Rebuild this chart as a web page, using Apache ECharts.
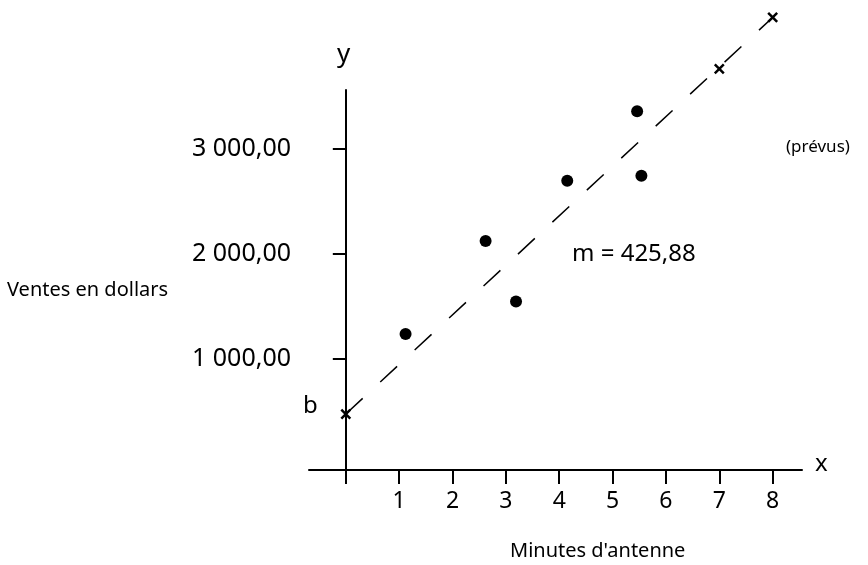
<!DOCTYPE html>
<html><head><meta charset="utf-8">
<script src="https://cdn.jsdelivr.net/npm/echarts@6/dist/echarts.min.js"></script>
<style>html,body{margin:0;background:#fff}#c{width:868px;height:565px}</style>
</head><body><div id="c"></div>
<script>
const observedX = [1.12, 2.62, 3.19, 4.15, 5.46, 5.54];
const observedY = [1238, 2124, 1548, 2697, 3360, 2745];
const crossX = [0, 7, 8];
const crossY = [476, 3763, 4253];
const fitX = [0, 8];
const fitY = [476, 4253];
const xTicks = [0, 1, 2, 3, 4, 5, 6, 7, 8];
const xTickLabels = [1, 2, 3, 4, 5, 6, 7, 8];
const yTickValues = [1000, 2000, 3000];
const yTickLabels = ['1 000,00', '2 000,00', '3 000,00'];
const arrowStarts = [[8.12, 3171], [9.10, 3238]];
const arrowEnds = [[7.24, 3619], [8.21, 4124]];

const F = 'Noto Sans';
const chart = echarts.init(document.getElementById('c'));
chart.setOption({
  animation: false,
  textStyle: {fontFamily: F, color: '#000'},
  grid: {left: 309, right: 66, top: 90, bottom: 95},
  xAxis: {type: 'value', min: -0.69, max: 8.55,
    axisLine: {onZero: false, lineStyle: {color: '#000', width: 2}},
    splitLine: {show: false},
    axisTick: {customValues: xTicks, length: 14, lineStyle: {color: '#000', width: 2}},
    axisLabel: {customValues: xTickLabels, fontSize: 23, margin: 20, color: '#000', fontFamily: F}},
  yAxis: {type: 'value', min: -57, max: 3562,
    axisLine: {onZero: true, show: true, lineStyle: {color: '#000', width: 2}},
    splitLine: {show: false},
    axisTick: {customValues: yTickValues, length: 13, lineStyle: {color: '#000', width: 2}},
    axisLabel: {customValues: yTickValues, fontSize: 25, margin: 18, color: '#000', fontFamily: F,
      formatter: v => yTickLabels[yTickValues.indexOf(v)]}},
  series: [
    {type: 'line', data: fitX.map((x, i) => [x, fitY[i]]), showSymbol: false, clip: false,
      lineStyle: {color: '#000', width: 1.5, type: [23, 24]},
      markLine: {silent: true, symbol: ['none', 'arrow'], symbolSize: [14, 16], label: {show: false},
        lineStyle: {color: '#000', width: 2.5, type: 'solid', opacity: 1},
        data: arrowStarts.map((s, i) => [{coord: s}, {coord: arrowEnds[i]}])}},
    {type: 'scatter', data: observedX.map((x, i) => [x, observedY[i]]), symbolSize: 12,
      itemStyle: {color: '#000', opacity: 1}, clip: false},
    {type: 'scatter', data: crossX.map((x, i) => [x, crossY[i]]), symbol: 'path://M0,0L10,10M10,0L0,10',
      symbolSize: 9, clip: false, itemStyle: {color: 'none', borderColor: '#000', borderWidth: 2.5, opacity: 1}}
  ],
  graphic: [
    {type: 'text', left: 337, top: 42, style: {text: 'y', font: '26px ' + F, fill: '#000'}},
    {type: 'text', left: 815, top: 452, style: {text: 'x', font: '24px ' + F, fill: '#000'}},
    {type: 'text', left: 303, top: 394, style: {text: 'b', font: '24px ' + F, fill: '#000'}},
    {type: 'text', left: 572, top: 242, style: {text: 'm = 425,88', font: '24px ' + F, fill: '#000'}},
    {type: 'text', left: 7, top: 280, style: {text: 'Ventes en dollars', font: '20px ' + F, fill: '#000'}},
    {type: 'text', left: 510, top: 541, style: {text: "Minutes d'antenne", font: '20px ' + F, fill: '#000'}},
    {type: 'text', left: 786, top: 139, style: {text: '(prévus)', font: '17px ' + F, fill: '#000'}}
  ]
});
</script></body></html>
